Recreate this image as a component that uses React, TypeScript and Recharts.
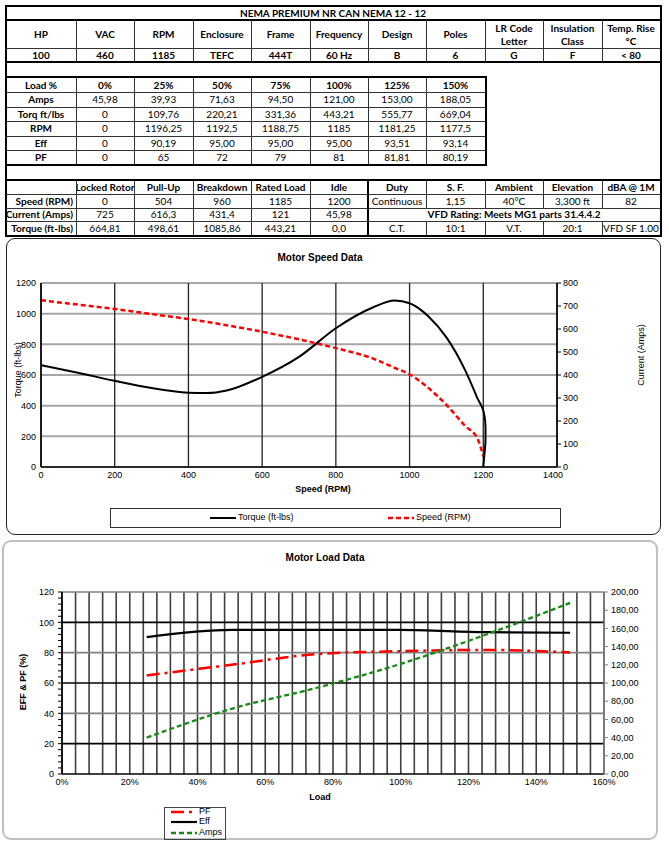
import React from 'react';
import { ComposedChart, Line, XAxis, YAxis, CartesianGrid, ReferenceLine } from 'recharts';

const specHeaders = ['HP', 'VAC', 'RPM', 'Enclosure', 'Frame', 'Frequency', 'Design', 'Poles', 'LR Code\nLetter', 'Insulation\nClass', 'Temp. Rise\n°C'];
const specValues = ['100', '460', '1185', 'TEFC', '444T', '60 Hz', 'B', '6', 'G', 'F', '< 80'];

const loadLabels = ['0%', '25%', '50%', '75%', '100%', '125%', '150%'];
const loadPct = [0, 25, 50, 75, 100, 125, 150];
const ampsLoad = [45.98, 39.93, 71.63, 94.5, 121, 153, 188.05];
const torqLoad = [0, 109.76, 220.21, 331.36, 443.21, 555.77, 669.04];
const rpmLoad = [0, 1196.25, 1192.5, 1188.75, 1185, 1181.25, 1177.5];
const effLoad = [0, 90.19, 95, 95, 95, 93.51, 93.14];
const pfLoad = [0, 65, 72, 79, 81, 81.81, 80.19];

const pointLabels = ['Locked Rotor', 'Pull-Up', 'Breakdown', 'Rated Load', 'Idle'];
const pointSpeed = ['0', '504', '960', '1185', '1200'];
const pointCurrent = ['725', '616,3', '431,4', '121', '45,98'];
const pointTorque = ['664,81', '498,61', '1085,86', '443,21', '0,0'];
const ratingHeaders = ['Duty', 'S. F.', 'Ambient', 'Elevation', 'dBA @ 1M'];
const ratingValues = ['Continuous', '1,15', '40°C', '3,300 ft', '82'];
const vfdText = 'VFD Rating: Meets MG1 parts 31.4.4.2';
const vfdValues = ['C.T.', '10:1', 'V.T.', '20:1', 'VFD SF 1.00'];

// speed curve
const torqueRpm = [0, 100, 200, 300, 400, 450, 504, 600, 700, 800, 900, 960, 1000, 1050, 1100, 1150, 1185];
const torqueVal = [664.81, 615, 562, 515, 485, 482, 498.61, 588, 718, 905, 1040, 1085.86, 1068, 985, 845, 635, 443.21];
const tailRpm = [1200, 1203, 1206, 1206, 1201, 1185];
const tailVal = [0, 80, 180, 260, 360, 443.21];
const currentRpm = [0, 100, 200, 300, 400, 504, 600, 700, 800, 900, 960, 1000, 1050, 1100, 1150, 1185, 1200];
const currentVal = [725, 706, 687, 665, 643, 616.3, 588, 555, 517, 472, 431.4, 403, 345, 270, 180, 121, 45.98];

const speedTicks = [0, 200, 400, 600, 800, 1000, 1200, 1400];
const torqueTicks = [0, 200, 400, 600, 800, 1000, 1200];
const ampTicks = [0, 100, 200, 300, 400, 500, 600, 700, 800];
const loadTicks = Array.from({ length: 41 }, (_, i) => i * 4);
const effTicks = Array.from({ length: 31 }, (_, i) => i * 4);
const ampLoadTicks = [0, 20, 40, 60, 80, 100, 120, 140, 160, 180, 200];
const loadGrid = [20, 40, 60, 80, 100, 120];

const colX = [6, 76, 134, 193, 251, 310, 368, 426, 485, 543, 602, 660];

const fmt2 = (v: number) => (v === 0 ? '0' : v.toFixed(2).replace('.', ','));
const fmtG = (v: number) => String(v).replace('.', ',');

const torqueData = torqueRpm.map((r, i) => ({ rpm: r, v: torqueVal[i] }));
const tailData = tailRpm.map((r, i) => ({ rpm: r, v: tailVal[i] }));
const currentData = currentRpm.map((r, i) => ({ rpm: r, v: currentVal[i] }));
const loadData = loadPct.slice(1).map((p, i) => ({
  load: p,
  eff: effLoad[i + 1],
  pf: pfLoad[i + 1],
  amps: ampsLoad[i + 1],
}));

const loadRows: Array<[string, string[], boolean]> = [
  ['Load %', loadLabels, true],
  ['Amps', ampsLoad.map(fmt2), false],
  ['Torq ft/lbs', torqLoad.map(fmt2), false],
  ['RPM', rpmLoad.map(fmtG), false],
  ['Eff', effLoad.map(fmt2), false],
  ['PF', pfLoad.map(fmtG), false],
];
const loadRowY = [78, 92, 107, 121, 136, 150, 164];

const FONT = '"Liberation Sans", Arial, sans-serif';

const Cell = ({ x, y, w, h, bold, right, children }: any) => (
  <div
    style={{
      position: 'absolute', left: x, top: y, width: w, height: h,
      display: 'flex', alignItems: 'center',
      justifyContent: right ? 'flex-end' : 'center',
      paddingRight: right ? 3 : 0, boxSizing: 'border-box',
      textAlign: 'center', whiteSpace: 'pre', lineHeight: '13px',
      fontSize: 10, fontWeight: bold ? 700 : 400, color: '#000',
    }}
  >
    {children}
  </div>
);

const Ln = ({ x, y, w, h, c = '#333' }: any) => (
  <div style={{ position: 'absolute', left: x, top: y, width: w, height: h, background: c }} />
);

const Txt = ({ x, y, size = 10, bold, rotate, children }: any) => (
  <div
    style={{
      position: 'absolute', left: x, top: y, whiteSpace: 'nowrap',
      transform: `translate(-50%, -50%)${rotate ? ' rotate(-90deg)' : ''}`,
      fontFamily: FONT, fontSize: size, fontWeight: bold ? 700 : 400, color: '#000',
    }}
  >
    {children}
  </div>
);

const tickStyle = { fontSize: 9, fill: '#000', fontFamily: FONT };

// last speed label sits a little left, clear of the right axis "0"
const SpeedTick = ({ x, y, payload }: any) => (
  <text x={x - (payload.value === 1400 ? 4 : 0)} y={y} dy="0.71em" textAnchor="middle" {...tickStyle}>
    {payload.value}
  </text>
);

const Tables = () => (
  <>
    {/* outer frame */}
    <Ln x={5} y={5} w={657} h={2} c="#000" />
    <Ln x={5} y={5} w={2} h={232} c="#000" />
    <Ln x={660} y={5} w={2} h={232} c="#000" />
    <Ln x={5} y={235} w={657} h={2} c="#000" />

    <Cell x={6} y={7} w={654} h={12} bold>NEMA PREMIUM NR CAN NEMA 12 - 12</Cell>
    <Ln x={5} y={19} w={657} h={2} c="#000" />
    {specHeaders.map((t, i) => (
      <Cell key={t} x={colX[i]} y={21} w={colX[i + 1] - colX[i]} h={27} bold>{t}</Cell>
    ))}
    <Ln x={6} y={48} w={654} h={1} />
    {specValues.map((t, i) => (
      <Cell key={i} x={colX[i]} y={49} w={colX[i + 1] - colX[i]} h={13} bold>{t}</Cell>
    ))}
    {colX.slice(1, 11).map((x) => <Ln key={x} x={x} y={20} w={1} h={42} />)}
    <Ln x={5} y={61} w={657} h={2} c="#000" />

    {/* load table */}
    <Ln x={5} y={76} w={482} h={2} c="#000" />
    <Ln x={485} y={76} w={2} h={90} c="#000" />
    <Ln x={5} y={164} w={482} h={2} c="#000" />
    {loadRows.map(([label, vals, hdr], r) => (
      <React.Fragment key={label}>
        <Cell x={colX[0]} y={loadRowY[r]} w={70} h={loadRowY[r + 1] - loadRowY[r]} bold>{label}</Cell>
        {vals.map((v, i) => (
          <Cell key={i} x={colX[i + 1]} y={loadRowY[r]} w={colX[i + 2] - colX[i + 1]} h={loadRowY[r + 1] - loadRowY[r]} bold={hdr}>{v}</Cell>
        ))}
        {r > 0 && <Ln x={6} y={loadRowY[r]} w={479} h={1} />}
      </React.Fragment>
    ))}
    {colX.slice(1, 8).map((x) => <Ln key={x} x={x} y={78} w={1} h={86} />)}

    {/* operating points + ratings */}
    <Ln x={5} y={179} w={657} h={2} c="#000" />
    {pointLabels.map((t, i) => (
      <Cell key={t} x={colX[i + 1]} y={181} w={colX[i + 2] - colX[i + 1]} h={13} bold>{t}</Cell>
    ))}
    {[['Speed (RPM)', pointSpeed, 194, 14], ['Current (Amps)', pointCurrent, 208, 13], ['Torque (ft-lbs)', pointTorque, 221, 14]].map(
      ([label, vals, y, h]: any) => (
        <React.Fragment key={label}>
          <Cell x={colX[0]} y={y} w={70} h={h} bold right>{label}</Cell>
          {vals.map((v: string, i: number) => (
            <Cell key={i} x={colX[i + 1]} y={y} w={colX[i + 2] - colX[i + 1]} h={h}>{v}</Cell>
          ))}
        </React.Fragment>
      )
    )}
    {ratingHeaders.map((t, i) => (
      <Cell key={t} x={colX[i + 6]} y={181} w={colX[i + 7] - colX[i + 6]} h={13} bold>{t}</Cell>
    ))}
    {ratingValues.map((t, i) => (
      <Cell key={i} x={colX[i + 6]} y={194} w={colX[i + 7] - colX[i + 6]} h={14}>{t}</Cell>
    ))}
    <Cell x={368} y={208} w={292} h={13} bold>{vfdText}</Cell>
    {vfdValues.map((t, i) => (
      <Cell key={i} x={colX[i + 6]} y={221} w={colX[i + 7] - colX[i + 6]} h={14}>{t}</Cell>
    ))}
    {[194, 208, 221].map((y) => <Ln key={y} x={6} y={y} w={654} h={1} />)}
    {colX.slice(1, 6).map((x) => <Ln key={x} x={x} y={181} w={1} h={54} />)}
    <Ln x={367} y={181} w={2} h={54} c="#000" />
    {colX.slice(7, 11).map((x) => (
      <React.Fragment key={x}>
        <Ln x={x} y={181} w={1} h={27} />
        <Ln x={x} y={221} w={1} h={14} />
      </React.Fragment>
    ))}
  </>
);

const SpeedChart = () => (
  <>
    <div style={{ position: 'absolute', left: 6, top: 238, width: 655, height: 297, border: '1px solid #222', borderRadius: 9, boxSizing: 'border-box' }} />
    <Txt x={320} y={257} bold>Motor Speed Data</Txt>
    <div style={{ position: 'absolute', left: 0, top: 240 }}>
      <ComposedChart width={669} height={290} margin={{ top: 43, right: 72, bottom: 43, left: 6 }}>
        <CartesianGrid vertical={false} stroke="#a6a6a6" strokeWidth={2} />
        <CartesianGrid horizontal={false} stroke="#222" strokeWidth={1.3} />
        <XAxis dataKey="rpm" type="number" domain={[0, 1400]} ticks={speedTicks} interval={0}
          tick={<SpeedTick />} tickLine={false} tickSize={3} tickMargin={2} height={20}
          axisLine={{ stroke: '#000', strokeWidth: 1.5 }} allowDuplicatedCategory={false} />
        <YAxis type="number" domain={[0, 1200]} ticks={torqueTicks} interval={0} width={35}
          tick={tickStyle} tickLine={false} tickSize={3} tickMargin={2}
          axisLine={{ stroke: '#000', strokeWidth: 1.5 }} />
        <YAxis yAxisId="right" orientation="right" type="number" domain={[0, 800]} ticks={ampTicks} interval={0} width={40}
          tick={tickStyle} tickLine={{ stroke: '#000' }} tickSize={4} tickMargin={2}
          axisLine={{ stroke: '#000', strokeWidth: 1.5 }} />
        <Line data={currentData} dataKey="v" yAxisId="right" type="monotone" stroke="#ff0000" strokeWidth={2.5}
          strokeDasharray="5 3" dot={false} isAnimationActive={false} />
        <Line data={torqueData} dataKey="v" type="monotone" stroke="#000" strokeWidth={2}
          dot={false} isAnimationActive={false} />
        <Line data={tailData} dataKey="v" type="monotoneY" stroke="#000" strokeWidth={2}
          dot={false} isAnimationActive={false} />
      </ComposedChart>
    </div>
    <Txt x={323} y={489} size={9} bold>Speed (RPM)</Txt>
    <Txt x={18} y={370} size={9} rotate>Torque (ft-lbs)</Txt>
    <Txt x={641} y={355} size={9} rotate>Current (Amps)</Txt>
    <div style={{ position: 'absolute', left: 110, top: 508, width: 451, height: 20, border: '1px solid #333', boxSizing: 'border-box' }} />
    <svg style={{ position: 'absolute', left: 0, top: 510 }} width={669} height={16}>
      <line x1={210} y1={8} x2={236} y2={8} stroke="#000" strokeWidth={2} />
      <line x1={388} y1={8} x2={414} y2={8} stroke="#ff0000" strokeWidth={2.5} strokeDasharray="5 3" />
    </svg>
    <div style={{ position: 'absolute', left: 238, top: 512, fontSize: 9, fontFamily: FONT }}>Torque (ft-lbs)</div>
    <div style={{ position: 'absolute', left: 416, top: 512, fontSize: 9, fontFamily: FONT }}>Speed (RPM)</div>
  </>
);

const LoadChart = () => (
  <>
    <div style={{ position: 'absolute', left: 2, top: 540, width: 656, height: 300, border: '2px solid #c0c0c0', borderRadius: 9, boxSizing: 'border-box' }} />
    <Txt x={325} y={557} bold>Motor Load Data</Txt>
    <div style={{ position: 'absolute', left: 0, top: 545 }}>
      <ComposedChart width={669} height={260} data={loadData} margin={{ top: 47, right: 15, bottom: 15, left: 30 }}>
        <CartesianGrid horizontal={false} stroke="#404040" strokeWidth={1.6} />
        {loadGrid.map((v, i) => (
          <ReferenceLine key={v} y={v} stroke={i % 2 === 0 ? '#000' : '#808080'} strokeWidth={1.6} />
        ))}
        <XAxis dataKey="load" type="number" domain={[0, 160]} ticks={loadTicks} interval={0}
          tickFormatter={(v: number) => (v % 20 === 0 ? `${v}%` : '')}
          tick={tickStyle} tickLine={false} tickSize={3} tickMargin={2} height={16}
          axisLine={{ stroke: '#000', strokeWidth: 1.5 }} />
        <YAxis type="number" domain={[0, 120]} ticks={effTicks} interval={0} width={32}
          tickFormatter={(v: number) => (v % 20 === 0 ? String(v) : '')}
          tick={tickStyle} tickLine={{ stroke: '#000' }} tickSize={4} tickMargin={4}
          axisLine={{ stroke: '#000', strokeWidth: 1.5 }} />
        <YAxis yAxisId="right" orientation="right" type="number" domain={[0, 200]} ticks={ampLoadTicks} interval={0} width={50}
          tickFormatter={(v: number) => v.toFixed(2).replace('.', ',')}
          tick={tickStyle} tickLine={{ stroke: '#808080' }} tickSize={4} tickMargin={3}
          axisLine={{ stroke: '#808080', strokeWidth: 1.5 }} />
        <Line dataKey="eff" type="monotone" stroke="#000" strokeWidth={2.2} dot={false} isAnimationActive={false} />
        <Line dataKey="pf" type="monotone" stroke="#ff0000" strokeWidth={2.5} strokeDasharray="13 5 3 5" dot={false} isAnimationActive={false} />
        <Line dataKey="amps" yAxisId="right" type="monotone" stroke="#168a16" strokeWidth={2.3} strokeDasharray="5 3" dot={false} isAnimationActive={false} />
      </ComposedChart>
    </div>
    <Txt x={320} y={797} size={9} bold>Load</Txt>
    <Txt x={23} y={682} size={9} bold rotate>EFF &amp; PF (%)</Txt>
    <div style={{ position: 'absolute', left: 164, top: 807, width: 62, height: 33, border: '1px solid #444', boxSizing: 'border-box' }} />
    <svg style={{ position: 'absolute', left: 160, top: 806 }} width={40} height={34}>
      <line x1={11} y1={6} x2={37} y2={6} stroke="#ff0000" strokeWidth={2.5} strokeDasharray="13 5 3 5" />
      <line x1={11} y1={16} x2={37} y2={16} stroke="#000" strokeWidth={2.2} />
      <line x1={11} y1={27} x2={37} y2={27} stroke="#168a16" strokeWidth={2.3} strokeDasharray="5 3" />
    </svg>
    {['PF', 'Eff', 'Amps'].map((t, i) => (
      <div key={t} style={{ position: 'absolute', left: 199, top: 806 + [0, 10, 21][i], fontSize: 9, fontFamily: FONT }}>{t}</div>
    ))}
  </>
);

export default function App() {
  return (
    <div style={{ position: 'absolute', left: 0, top: 0, width: 669, height: 848, background: '#fff', overflow: 'hidden', fontFamily: 'Lato, "Open Sans", sans-serif' }}>
      <Tables />
      <SpeedChart />
      <LoadChart />
    </div>
  );
}
